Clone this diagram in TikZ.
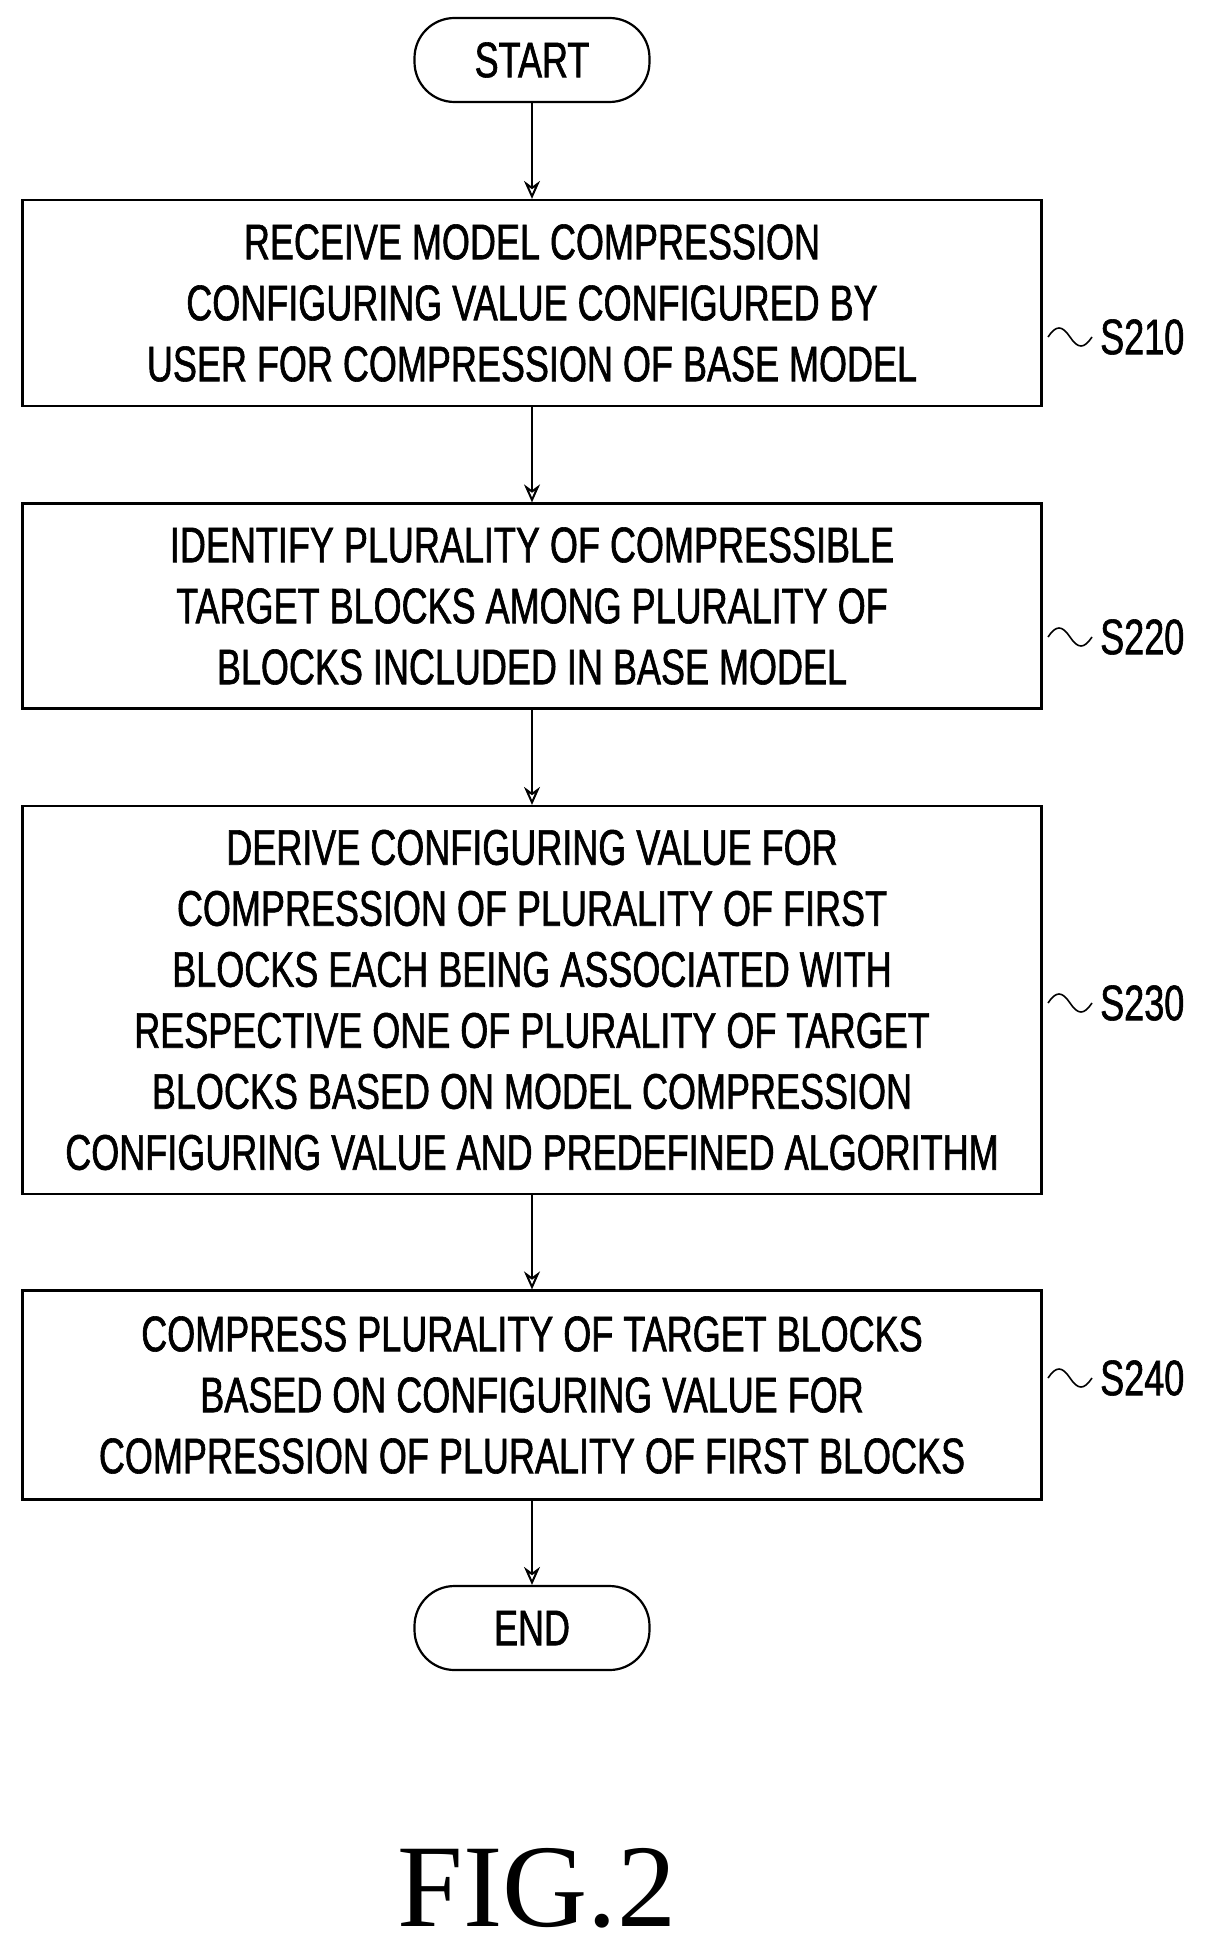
\documentclass[tikz,border=0pt]{standalone}
\usepackage{fontspec}
\setmainfont{Liberation Sans}[FakeStretch=0.72,FakeBold=1.2]
\newfontfamily\figfont{Liberation Serif}
\usetikzlibrary{arrows.meta}
\begin{document}
\begin{tikzpicture}[x=1pt,y=-1pt,
  every node/.style={font=\fontsize{50}{61}\selectfont},
  stepbox/.style={draw,line width=2.2pt,minimum width=1019pt,align=center,inner sep=0pt},
  term/.style={draw,line width=2.2pt,rounded corners=40pt,minimum width=235pt,minimum height=84pt,inner sep=0pt},
  arr/.style={line width=2pt,-{Stealth[length=18pt,width=16pt,open]}},
  lbl/.style={anchor=west,inner sep=0pt}]
\useasboundingbox (0,0) rectangle (1211,1950);
\node[term] (start) at (532,60) {START};
\node[stepbox,minimum height=206pt] (s1) at (532,303) {RECEIVE MODEL COMPRESSION\\CONFIGURING VALUE CONFIGURED BY\\USER FOR COMPRESSION OF BASE MODEL};
\node[stepbox,minimum height=205pt] (s2) at (532,606) {IDENTIFY PLURALITY OF COMPRESSIBLE\\TARGET BLOCKS AMONG PLURALITY OF\\BLOCKS INCLUDED IN BASE MODEL};
\node[stepbox,minimum height=388pt] (s3) at (532,1000) {DERIVE CONFIGURING VALUE FOR\\COMPRESSION OF PLURALITY OF FIRST\\BLOCKS EACH BEING ASSOCIATED WITH\\RESPECTIVE ONE OF PLURALITY OF TARGET\\BLOCKS BASED ON MODEL COMPRESSION\\CONFIGURING VALUE AND PREDEFINED ALGORITHM};
\node[stepbox,minimum height=209pt] (s4) at (532,1395) {COMPRESS PLURALITY OF TARGET BLOCKS\\BASED ON CONFIGURING VALUE FOR\\COMPRESSION OF PLURALITY OF FIRST BLOCKS};
\node[term] (end) at (532,1628) {END};
\node[lbl] (l1) at (1100,337) {S210};
\node[lbl] (l2) at (1100,637) {S220};
\node[lbl] (l3) at (1100,1003) {S230};
\node[lbl] (l4) at (1100,1378) {S240};
\node[inner sep=0pt,font=\figfont\fontsize{118}{120}\selectfont] (fig) at (537,1888) {FIG.2};
\draw[arr] (start) -- (s1);
\draw[arr] (s1) -- (s2);
\draw[arr] (s2) -- (s3);
\draw[arr] (s3) -- (s4);
\draw[arr] (s4) -- (end);
\foreach \l in {l1,l2,l3,l4}{
  \draw[line width=1.6pt] ([xshift=-8pt]\l.west) .. controls +(-8,12) and +(8,12) .. ([xshift=-30pt]\l.west) .. controls +(-8,-12) and +(8,-12) .. ([xshift=-52pt]\l.west);
}
\end{tikzpicture}
\end{document}
